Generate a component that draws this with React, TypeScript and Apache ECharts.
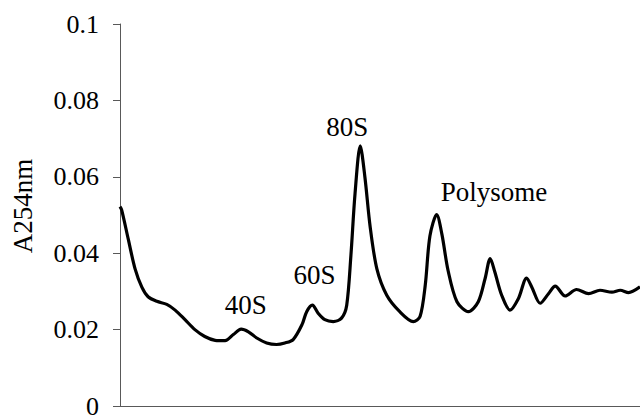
import React, { useEffect, useRef } from "react";
import * as echarts from "echarts";

// Fraction position along the gradient (0-100) and A254nm absorbance readings
const positions = [
  0, 0.33, 1.6, 2.9, 4.2, 5.4, 7.1, 9.0, 10.6, 12.5, 14.4, 16.3, 18.3, 20.2, 21.8,
  23.3, 24.7, 26.3, 28.2, 30.1, 31.7, 33.3, 35.0, 35.9, 37.0, 38.1, 39.4, 41.0, 42.6,
  43.6, 44.4, 45.2, 46.2, 47.1, 48.1, 49.4, 51.3, 53.8, 56.4, 57.7, 58.7, 59.6, 60.9,
  61.9, 63.1, 64.8, 67.0, 68.9, 70.2, 71.2, 72.1, 73.4, 75.0, 76.6, 78.2, 79.2, 80.8,
  82.4, 83.7, 85.6, 87.8, 90.1, 92.3, 94.6, 96.2, 97.8, 100,
];
const absorbance = [
  0.0522, 0.0513, 0.0436, 0.0359, 0.0311, 0.0286, 0.0274, 0.0266, 0.0251, 0.0226,
  0.02, 0.0182, 0.0172, 0.0171, 0.0187, 0.0201, 0.0194, 0.0178, 0.0165, 0.0161,
  0.0165, 0.0174, 0.0213, 0.0247, 0.0264, 0.0243, 0.0226, 0.0221, 0.023, 0.0264,
  0.0393, 0.0556, 0.0681, 0.0599, 0.047, 0.0359, 0.029, 0.0247, 0.0221, 0.0234,
  0.0316, 0.0445, 0.0501, 0.045, 0.0354, 0.0273, 0.0247, 0.0273, 0.0333, 0.0386,
  0.035, 0.029, 0.0251, 0.0281, 0.0335, 0.0311, 0.0269, 0.0294, 0.0314, 0.0288,
  0.0305, 0.0294, 0.0303, 0.0298, 0.0303, 0.0297, 0.0312,
];

const peakLabels = ["40S", "60S", "80S", "Polysome"];
const peakLabelX = [24.2, 37.4, 43.7, 71.9];
const peakLabelY = [0.0265, 0.0344, 0.0731, 0.0561];

const yTicks = [0, 0.02, 0.04, 0.06, 0.08, 0.1];
const yTitle = "A254nm";

const FONT = "Liberation Serif";

export default function App() {
  const ref = useRef<HTMLDivElement>(null);

  useEffect(() => {
    if (!ref.current) return;
    const chart = echarts.init(ref.current, null, { renderer: "svg" });
    chart.setOption({
      animation: false,
      backgroundColor: "#ffffff",
      grid: { left: 120, right: 0, top: 24, bottom: 6, containLabel: false },
      xAxis: {
        type: "value",
        min: 0,
        max: 100,
        axisLine: { show: true, lineStyle: { color: "#595959", width: 1 } },
        axisTick: { show: false },
        axisLabel: { show: false },
        splitLine: { show: false },
      },
      yAxis: {
        type: "value",
        min: 0,
        max: 0.1,
        interval: 0.02,
        axisLine: { show: true, lineStyle: { color: "#595959", width: 1 } },
        axisTick: { show: true, inside: false, length: 7, lineStyle: { color: "#595959" } },
        axisLabel: {
          show: true,
          margin: 21,
          color: "#000",
          fontFamily: FONT,
          fontSize: 26,
          formatter: (v: number) => {
            const t = yTicks.find((k) => Math.abs(k - v) < 1e-9);
            return String(t !== undefined ? t : v);
          },
        },
        splitLine: { show: false },
      },
      graphic: [
        {
          type: "text",
          x: 23,
          y: 206,
          rotation: Math.PI / 2,
          style: {
            text: yTitle,
            fill: "#000",
            fontFamily: FONT,
            fontSize: 27,
            textAlign: "center",
            textVerticalAlign: "middle",
          },
        },
      ],
      series: [
        {
          type: "line",
          data: positions.map((x, i) => [x, absorbance[i]]),
          showSymbol: false,
          symbol: "none",
          smooth: 0.3,
          lineStyle: { color: "#000", width: 3.2 },
          clip: false,
        },
        {
          type: "scatter",
          symbolSize: 0,
          itemStyle: { opacity: 1, color: "#000" },
          data: peakLabels.map((name, i) => ({ name, value: [peakLabelX[i], peakLabelY[i]] })),
          label: {
            show: true,
            position: "inside",
            formatter: (p: any) => p.name,
            color: "#000",
            opacity: 1,
            fontFamily: FONT,
            fontSize: 27,
          },
          silent: true,
        },
      ],
    });
    return () => chart.dispose();
  }, []);

  return (
    <div
      ref={ref}
      style={{ position: "absolute", left: 0, top: 0, width: 640, height: 419 }}
    />
  );
}
